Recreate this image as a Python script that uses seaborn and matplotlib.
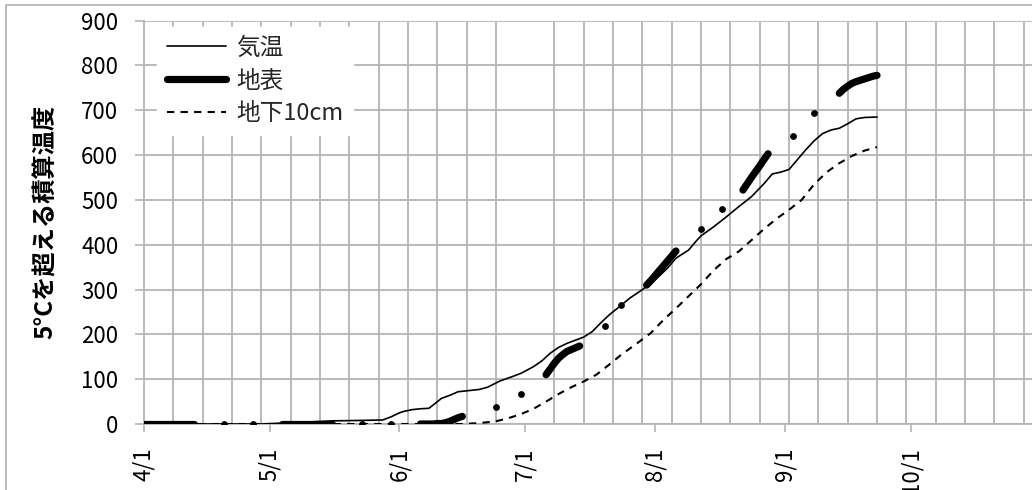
import pandas as pd
import matplotlib
matplotlib.use("Agg")
import matplotlib.pyplot as plt
from matplotlib.lines import Line2D
from matplotlib.patches import Rectangle
import seaborn as sns

# 4/1 からの経過日数と 5℃を超える積算温度
air_day = [0, 28, 33, 38, 45, 52, 57, 59, 61, 62, 64, 66, 68, 69, 71, 73, 75, 78, 80, 82,
           85, 88, 90, 93, 95, 97, 99, 101, 103, 105, 107, 109, 111, 113, 116, 119, 122,
           125, 127, 130, 132, 133, 136, 139, 142, 145, 148, 150, 152, 154, 156, 158, 160,
           162, 164, 166, 168, 170, 172, 175]
air_val = [0, 0, 2, 4, 7, 8, 9, 16, 25, 28, 32, 34, 35, 42, 57, 64, 72, 75, 77, 82,
           96, 106, 113, 128, 141, 158, 171, 180, 187, 194, 206, 225, 243, 258, 281, 300, 321,
           348, 370, 388, 410, 420, 440, 462, 485, 507, 536, 558, 562, 568, 590, 612, 632,
           648, 656, 660, 670, 681, 684, 685]

surf_day = [0, 1, 2, 3, 4, 5, 6, 7, 8, 9, 10, 11, 12,
            19, 26,
            33, 34, 35, 36, 37, 38, 39, 40, 41, 42, 43, 44, 45,
            52, 59,
            66, 67, 68, 69, 70, 71, 72, 73, 74, 75, 76,
            84, 90,
            96, 97, 98, 99, 100, 101, 102, 103, 104,
            110, 114,
            120, 121, 122, 123, 124, 125, 126, 127,
            133, 138,
            143, 144, 145, 146, 147, 148, 149,
            155, 160,
            166, 167, 168, 169, 170, 171, 172, 173, 174, 175]
surf_val = [0, 0, 0, 0, 0, 0, 0, 0, 0, 0, 0, 0, 0,
            0, 0,
            0, 0, 0, 0, 0, 0, 0, 0, 0, 0, 0, 0, 0,
            0, 0,
            0, 0, 0, 0, 1, 1, 3, 6, 10, 14, 17,
            39, 68,
            110, 123, 136, 147, 155, 162, 166, 170, 174,
            218, 265,
            310, 320, 331, 342, 353, 364, 375, 386,
            435, 479,
            522, 536, 550, 563, 576, 590, 603,
            643, 695,
            738, 747, 754, 760, 764, 767, 770, 773, 776, 778]

soil_day = [0, 76, 80, 84, 87, 90, 93, 96, 99, 102, 105, 108, 111, 114, 118, 121, 124,
            127, 130, 133, 136, 139, 142, 145, 148, 151, 154, 157, 160, 163, 166, 169,
            172, 175]
soil_val = [0, 0, 2, 6, 13, 22, 34, 50, 67, 82, 95, 110, 132, 155, 182, 203, 232,
            258, 285, 312, 343, 368, 385, 410, 435, 458, 478, 500, 535, 562, 582, 598,
            610, 618]

month_day = [0, 30, 61, 91, 122, 153, 183]
month_lab = ["4/1", "5/1", "6/1", "7/1", "8/1", "9/1", "10/1"]
names = ["気温", "地表", "地下10cm"]

sns.set_theme(style="white")
plt.rcParams["font.family"] = ["Noto Sans CJK JP", "DejaVu Sans"]

fig = plt.figure(figsize=(10.32, 4.9), dpi=100)
ax = fig.add_axes([0.1395, 0.1347, 0.8605, 0.8231])

air = pd.DataFrame({"day": air_day, "val": air_val})
surf = pd.DataFrame({"day": surf_day, "val": surf_val})
surf["seg"] = (surf["day"].diff() > 1).cumsum()
surf["n"] = surf.groupby("seg")["day"].transform("size")
soil = pd.DataFrame({"day": soil_day, "val": soil_val})

dash = (0, (3.5, 3))
sns.lineplot(data=air, x="day", y="val", color="black", lw=1.2, ax=ax, legend=False, zorder=3)
sns.lineplot(data=surf[surf["n"] > 1], x="day", y="val", units="seg", estimator=None,
             color="black", lw=5.2, solid_capstyle="round", ax=ax, legend=False, zorder=4)
# 1日だけの観測は点で表示
sns.scatterplot(data=surf[surf["n"] == 1], x="day", y="val", color="black", s=24,
                linewidth=0, ax=ax, legend=False, zorder=4)
sns.lineplot(data=soil, x="day", y="val", color="black", lw=1.5, linestyle=dash, ax=ax,
             legend=False, zorder=5)

gc = "#b4b4b4"
ax.set_xlim(0, 212)
ax.set_ylim(0, 900)
ax.set_yticks(range(0, 901, 100))
ax.set_xticks(month_day)
ax.set_xticklabels(month_lab, rotation=90)
ax.set_xticks(range(0, 212, 7), minor=True)
ax.grid(False)
ax.grid(which="minor", axis="x", color=gc, lw=1.3)
ax.grid(which="major", axis="y", color=gc, lw=1.3)
ax.tick_params(axis="x", which="major", length=6, width=1.2, color=gc, pad=11,
               labelsize=16, labelcolor="black", bottom=True)
ax.tick_params(axis="x", which="minor", length=0)
ax.tick_params(axis="y", length=6.5, width=1.2, color=gc, pad=12, labelsize=16,
               labelcolor="black", left=True)
for s in ["top", "right"]:
    ax.spines[s].set_visible(False)
for s in ["left", "bottom"]:
    ax.spines[s].set_color(gc)
    ax.spines[s].set_linewidth(1.3)

ax.set_xlabel("")
ax.set_ylabel("5°Cを超える積算温度", fontsize=17.5, fontweight="bold", color="black")
ax.yaxis.set_label_coords(-0.097, 0.5)

handles = [Line2D([], [], color="black", lw=1.2),
           Line2D([], [], color="black", lw=5.2, solid_capstyle="round"),
           Line2D([], [], color="black", lw=1.5, linestyle=dash)]
leg = ax.legend(handles, names, loc="upper left", bbox_to_anchor=(0.015, 0.984),
                borderaxespad=0, frameon=True, fancybox=False, framealpha=1,
                edgecolor="white", facecolor="white", fontsize=17,
                handlelength=2.5, handletextpad=0.45, labelspacing=0.42, borderpad=0.4)
leg.set_zorder(10)

fig.patches.append(Rectangle((6 / 1032, -0.1), 1.2, 1 - 5 / 490 + 0.1,
                             transform=fig.transFigure, fill=False,
                             edgecolor="#b0b0b0", lw=1.2))

fig.savefig("out.png", dpi=100, facecolor="white")
